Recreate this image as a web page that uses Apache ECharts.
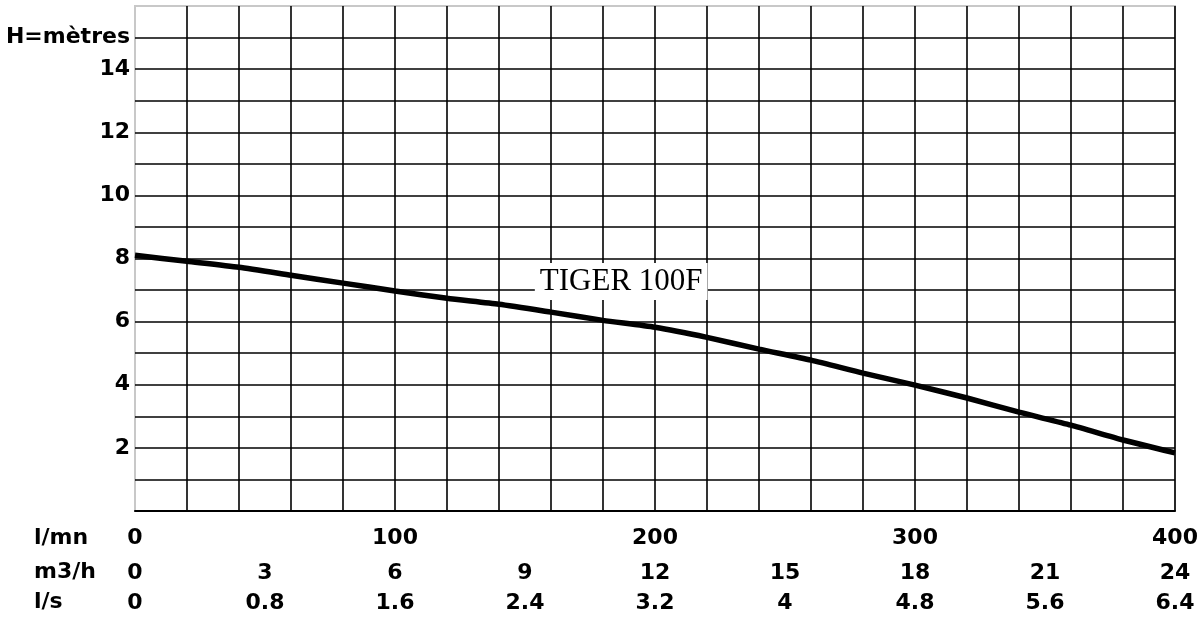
<!DOCTYPE html>
<html>
<head>
<meta charset="utf-8">
<script src="https://cdn.jsdelivr.net/npm/echarts@6/dist/echarts.min.js"></script>
<style>html,body{margin:0;padding:0;background:#fff}#c{width:1203px;height:618px}</style>
</head>
<body>
<div id="c"></div>
<script>
// Flow in l/mn (x) and head H in metres (y)
const flowLmn = [0, 20, 40, 60, 80, 100, 120, 140, 160, 180, 200, 220, 240, 260, 280, 300, 320, 340, 360, 380, 400];
const headM   = [8.1, 7.91, 7.72, 7.47, 7.22, 6.97, 6.74, 6.55, 6.3, 6.04, 5.82, 5.5, 5.13, 4.78, 4.37, 3.99, 3.58, 3.13, 2.72, 2.25, 1.84];

// Tick labels
const lmnTicks = [0, 100, 200, 300, 400];
const m3hTicks = ['0', '3', '6', '9', '12', '15', '18', '21', '24'];
const lsTicks  = ['0', '0.8', '1.6', '2.4', '3.2', '4', '4.8', '5.6', '6.4'];
const yTicks   = [2, 4, 6, 8, 10, 12, 14];
const yTitle = 'H=mètres';
const rowNames = ['l/mn', 'm3/h', 'l/s'];
const curveName = 'TIGER 100F';
const curveLabelAt = [187, 7.27];

const FONT = 'DejaVu Sans';
const lab = {fontFamily: FONT, fontWeight: 'bold', fontSize: 22, color: '#000'};

const chart = echarts.init(document.getElementById('c'));
const baseX = {
  type: 'value', min: 0, max: 400, gridIndex: 0, position: 'bottom'
};
chart.setOption({
  animation: false,
  backgroundColor: '#fff',
  grid: {left: 135, top: 6, right: 28, bottom: 107, show: true, borderColor: '#c8c8c8', borderWidth: 2, backgroundColor: '#fff'},
  xAxis: [
    Object.assign({}, baseX, {
      interval: 20,
      axisLine: {show: true, lineStyle: {color: '#000', width: 2}},
      axisTick: {show: false},
      splitLine: {show: true, showMinLine: false, showMaxLine: true, lineStyle: {color: '#000', width: 1.6}},
      axisLabel: Object.assign({}, lab, {
        margin: 16,
        formatter: v => (lmnTicks.indexOf(v) >= 0 ? String(v) : '')
      })
    }),
    Object.assign({}, baseX, {
      interval: 50, offset: 35,
      axisLine: {show: false}, axisTick: {show: false}, splitLine: {show: false},
      axisLabel: Object.assign({}, lab, {margin: 16, formatter: v => m3hTicks[Math.round(v / 50)] || ''})
    }),
    Object.assign({}, baseX, {
      interval: 50, offset: 65,
      axisLine: {show: false}, axisTick: {show: false}, splitLine: {show: false},
      axisLabel: Object.assign({}, lab, {margin: 16, formatter: v => lsTicks[Math.round(v / 50)] || ''})
    })
  ],
  yAxis: {
    type: 'value', min: 0, max: 16, interval: 1,
    axisLine: {show: false},
    axisTick: {show: false},
    splitLine: {show: true, showMinLine: false, showMaxLine: false, lineStyle: {color: '#000', width: 1.6}},
    axisLabel: Object.assign({}, lab, {
      margin: 5,
      padding: [0, 0, 10, 0],
      formatter: v => (v === 15 ? yTitle : (yTicks.indexOf(v) >= 0 ? String(v) : ''))
    })
  },
  graphic: rowNames.map((t, i) => ({
    type: 'text', left: 34, top: [527, 561, 591][i], z: 10,
    style: {text: t, font: 'bold 22px "' + FONT + '"', fill: '#000'}
  })),
  series: [
    {
      type: 'line', name: curveName,
      data: flowLmn.map((f, i) => [f, headM[i]]),
      smooth: 0.2, showSymbol: false, symbol: 'none', z: 5,
      lineStyle: {color: '#000', width: 5.5}
    },
    {
      type: 'scatter', data: [curveLabelAt], symbolSize: 0, z: 4, silent: true,
      itemStyle: {opacity: 1, color: '#000'},
      label: {
        show: true, position: 'inside', formatter: curveName,
        fontFamily: 'Liberation Serif', fontSize: 31, color: '#000', opacity: 1,
        textBorderWidth: 0,
        backgroundColor: '#fff', padding: [4, 5, 3, 5], lineHeight: 30
      }
    }
  ]
});
</script>
</body>
</html>
